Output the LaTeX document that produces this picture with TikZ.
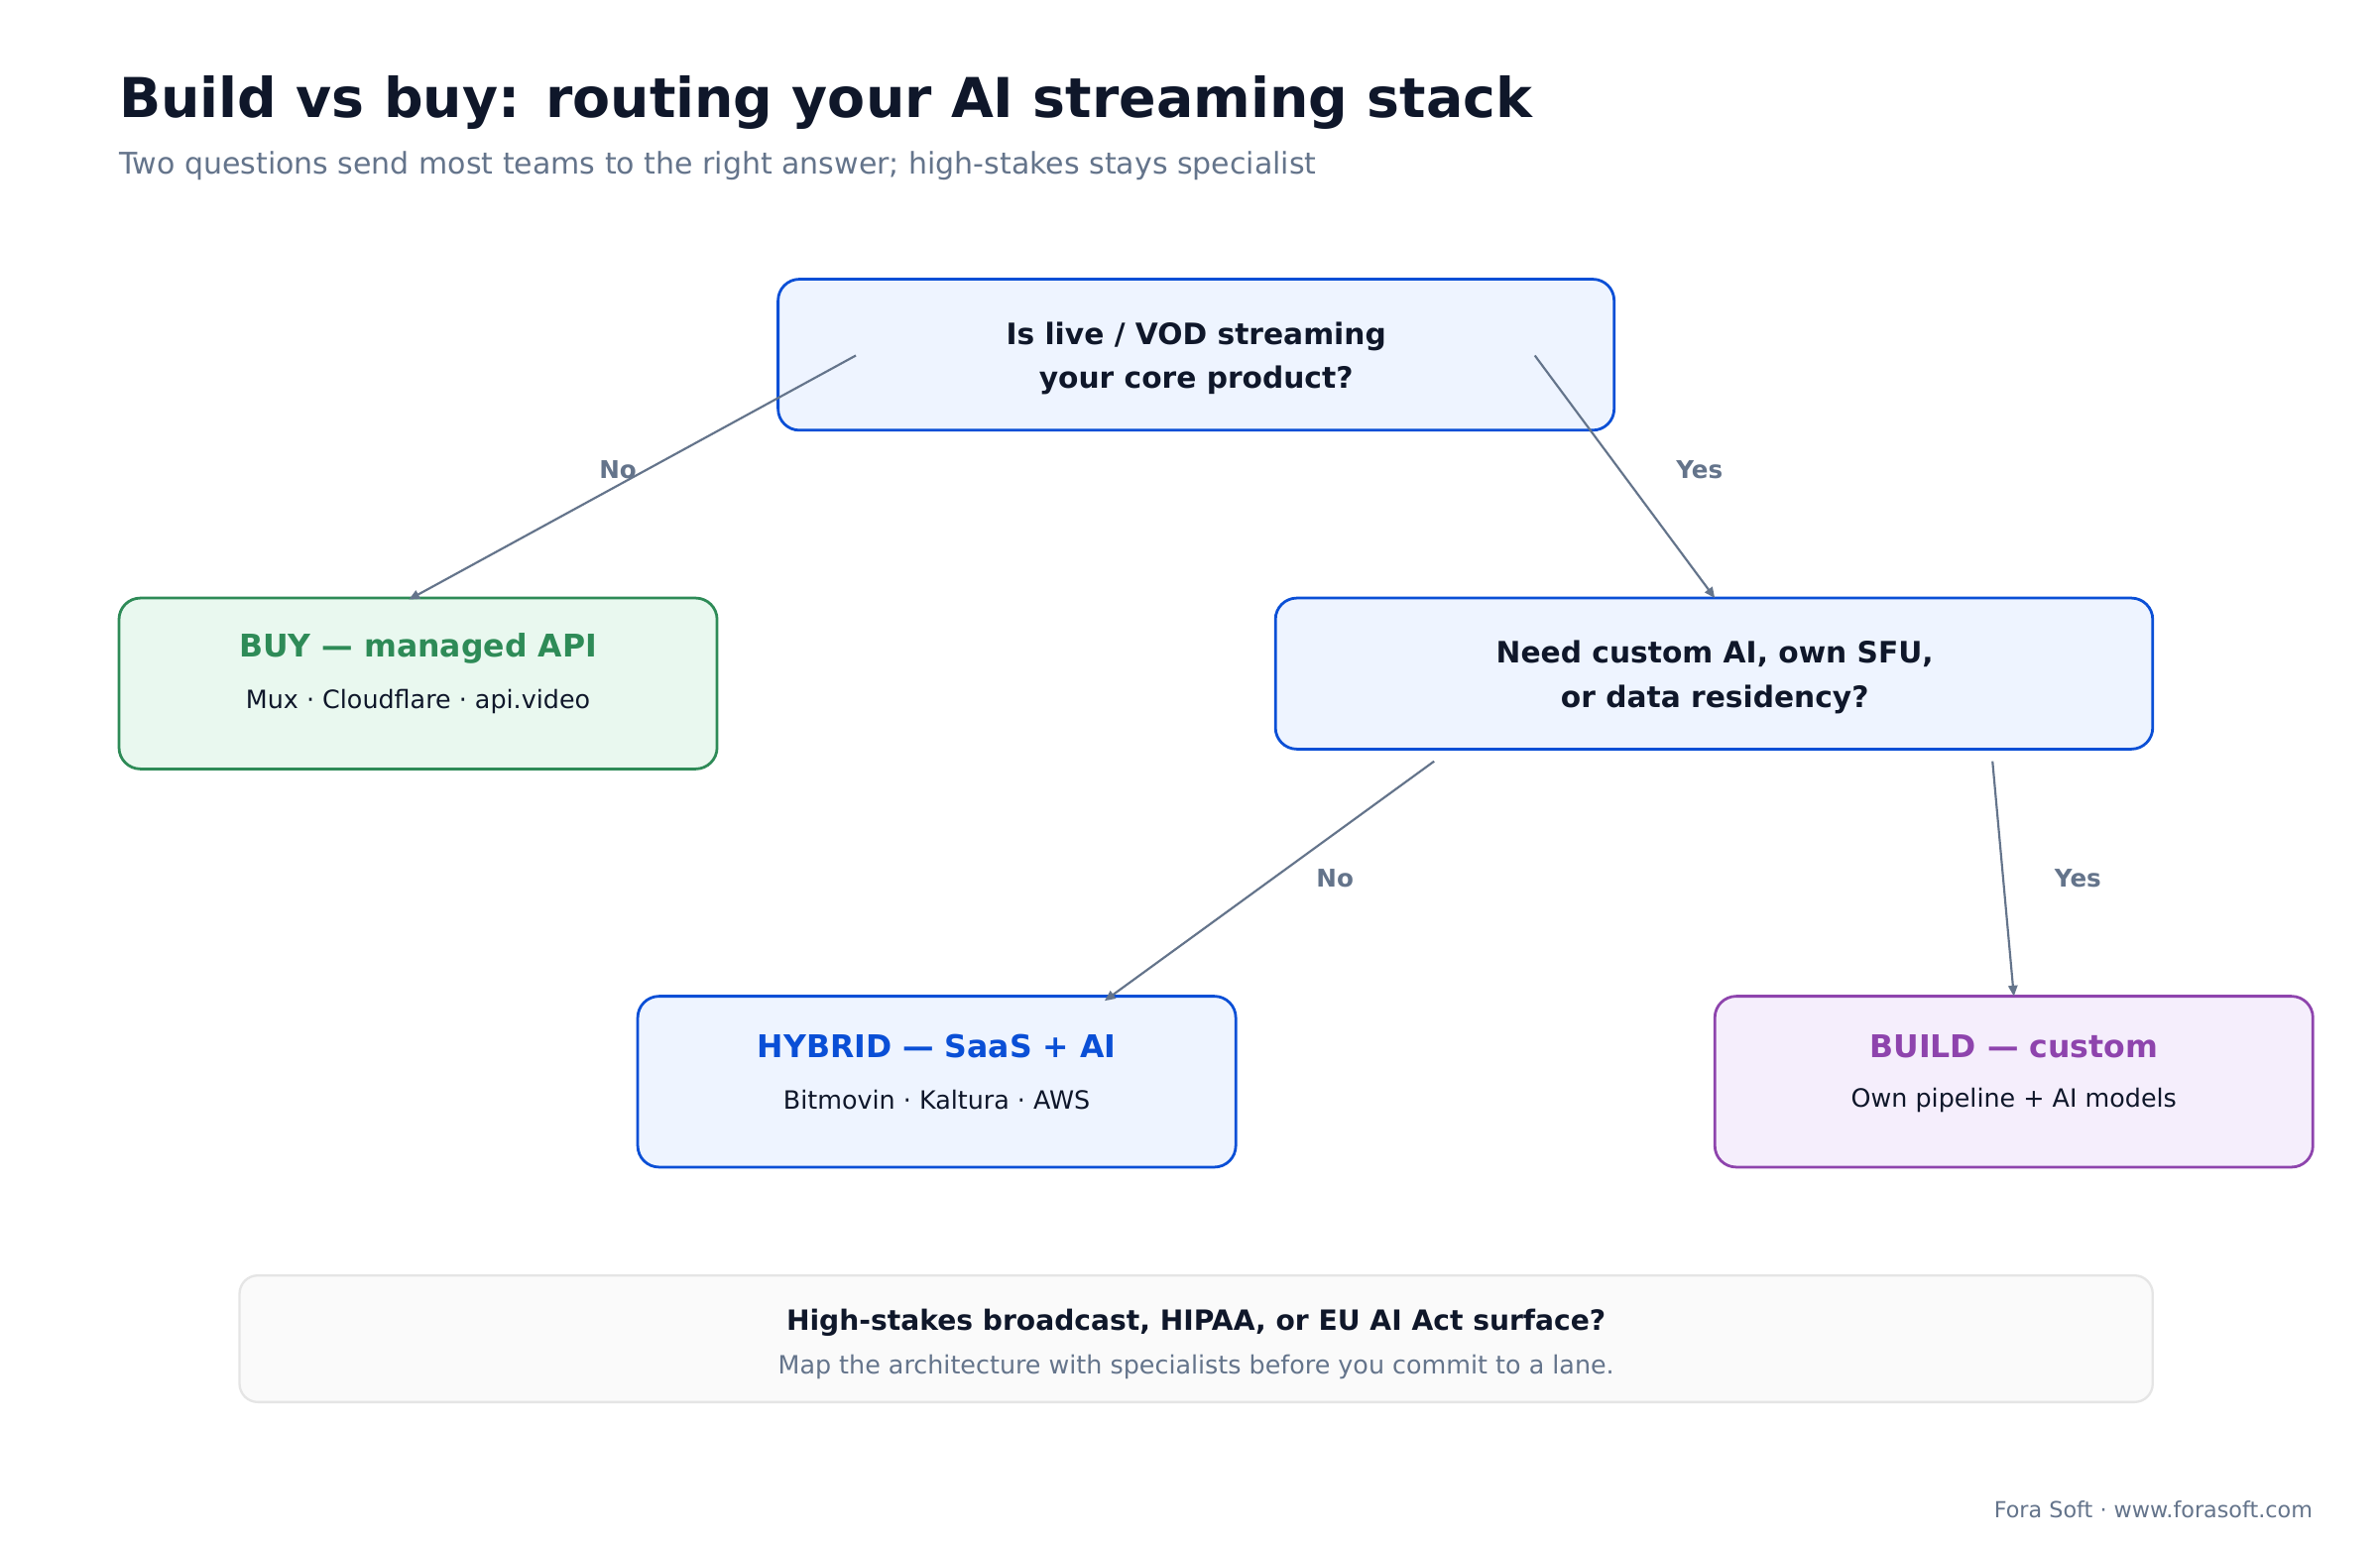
\documentclass[tikz,border=0pt]{standalone}
\usepackage{fontspec}
\setmainfont{DejaVu Sans}
\usetikzlibrary{arrows.meta}
\definecolor{ink}{HTML}{0F172A}
\definecolor{muted}{HTML}{64748B}
\definecolor{blueb}{HTML}{0A4FD6}
\definecolor{bluef}{HTML}{EEF4FF}
\definecolor{greenb}{HTML}{2E8B57}
\definecolor{greenf}{HTML}{E9F8EF}
\definecolor{purpb}{HTML}{8E44AD}
\definecolor{purpf}{HTML}{F5EEFC}
\begin{document}
\begin{tikzpicture}[x=1pt,y=-1pt,
  box/.style={draw=#1,line width=1.8pt,rounded corners=14pt},
  conn/.style={draw=muted,line width=1.4pt,-{Triangle[length=7pt,width=6pt]}},
  lab/.style={text=muted,font=\fontsize{16}{19}\selectfont\bfseries},
  q/.style={text=ink,font=\fontsize{19.3}{29}\selectfont\bfseries,align=center}]
\useasboundingbox (0,0) rectangle (1560,1014);
\fill[white] (0,0) rectangle (1560,1014);
\node[anchor=base west,inner sep=0pt,text=ink,font=\fontsize{36}{42}\selectfont\bfseries] (title) at (78,77) {Build vs buy: routing your AI streaming stack};
\node[anchor=base west,inner sep=0pt,text=muted,font=\fontsize{19.5}{22}\selectfont] (sub) at (78,114) {Two questions send most teams to the right answer; high-stakes stays specialist};
% boxes
\draw[box=blueb,fill=bluef] (510,183) rectangle (1058,282);
\node[q] (q1) at (784,235) {Is live / VOD streaming\\your core product?};
\draw[box=greenb,fill=greenf] (78,392) rectangle (470,504);
\node[text=greenb,font=\fontsize{20.5}{22}\selectfont\bfseries] (buyt) at (274,425) {BUY — managed API};
\node[text=ink,font=\fontsize{16.5}{18}\selectfont] (buys) at (274,460) {Mux · Cloudflare · api.video};
\draw[box=blueb,fill=bluef] (836,392) rectangle (1411,491);
\node[q] (q2) at (1124,444) {Need custom AI, own SFU,\\or data residency?};
\draw[box=blueb,fill=bluef] (418,653) rectangle (810,765);
\node[text=blueb,font=\fontsize{20.5}{22}\selectfont\bfseries] (hybt) at (614,686) {HYBRID — SaaS + AI};
\node[text=ink,font=\fontsize{16.5}{18}\selectfont] (hybs) at (614,721) {Bitmovin · Kaltura · AWS};
\draw[box=purpb,fill=purpf] (1124,653) rectangle (1516,765);
\node[text=purpb,font=\fontsize{20.5}{22}\selectfont\bfseries] (bldt) at (1320,686) {BUILD — custom};
\node[text=ink,font=\fontsize{16.5}{18}\selectfont] (blds) at (1320,721) {Own pipeline + AI models};
\draw[draw=black!10,line width=1.5pt,fill=black!2,rounded corners=12pt] (157,836) rectangle (1411,919);
\node[text=ink,font=\fontsize{18.3}{20}\selectfont\bfseries] (hs) at (784,867) {High-stakes broadcast, HIPAA, or EU AI Act surface?};
\node[text=muted,font=\fontsize{16.5}{18}\selectfont] (hs2) at (784,896) {Map the architecture with specialists before you commit to a lane.};
\node[anchor=base east,inner sep=0pt,text=muted,font=\fontsize{14.5}{16}\selectfont] (foot) at (1516,995) {Fora Soft · www.forasoft.com};
% connectors
\coordinate (a1) at (561,233); \coordinate (b1) at (268,393);
\coordinate (a2) at (1006,233); \coordinate (b2) at (1124,392);
\coordinate (a3) at (940,499); \coordinate (b3) at (724,656);
\coordinate (a4) at (1306,499); \coordinate (b4) at (1320,653);
\draw[conn] (a1) -- (b1);
\draw[conn] (a2) -- (b2);
\draw[conn] (a3) -- (b3);
\draw[conn] (a4) -- (b4);
\node[lab] (l1) at (405,308) {No};
\node[lab] (l2) at (1114,308) {Yes};
\node[lab] (l3) at (875,576) {No};
\node[lab] (l4) at (1362,576) {Yes};
\end{tikzpicture}
\end{document}
